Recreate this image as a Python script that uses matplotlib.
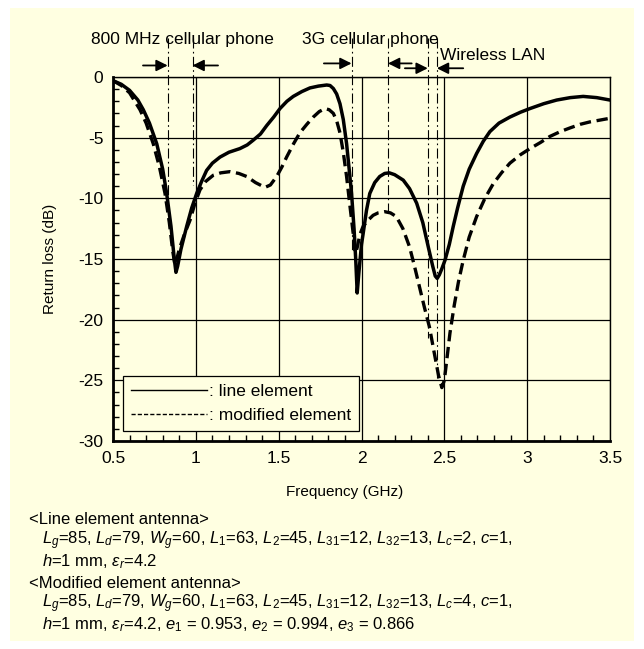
import matplotlib
matplotlib.use("Agg")
import matplotlib.pyplot as plt
from matplotlib.patches import Rectangle
from matplotlib.lines import Line2D
from matplotlib.ticker import MultipleLocator

plt.rcParams['font.family'] = ['Liberation Sans', 'DejaVu Sans']
plt.rcParams['mathtext.fontset'] = 'custom'
plt.rcParams['mathtext.rm'] = 'Liberation Sans'
plt.rcParams['mathtext.it'] = 'Liberation Sans:italic'
plt.rcParams['mathtext.bf'] = 'Liberation Sans:bold'

# ---------------- data ----------------
freq_line = [0.50, 0.55, 0.60, 0.65, 0.683, 0.72, 0.764, 0.80, 0.824, 0.85, 0.87, 0.88, 0.89, 0.91,
             0.945, 0.975, 1.005, 1.035, 1.065, 1.10, 1.146, 1.20, 1.266, 1.31, 1.347, 1.39, 1.428,
             1.47, 1.508, 1.55, 1.588, 1.64, 1.689, 1.74, 1.79, 1.81, 1.83, 1.85, 1.87, 1.89, 1.91,
             1.93, 1.94, 1.955, 1.965, 1.974, 1.985, 2.00, 2.01, 2.03, 2.05, 2.08, 2.11, 2.14, 2.168,
             2.20, 2.252, 2.29, 2.333, 2.37, 2.403, 2.43, 2.445, 2.457, 2.47, 2.485, 2.504, 2.53,
             2.554, 2.58, 2.614, 2.65, 2.695, 2.735, 2.775, 2.83, 2.896, 2.96, 3.017, 3.10, 3.178,
             3.26, 3.338, 3.42, 3.50]
rl_line = [-0.3, -0.6, -1.1, -1.9, -2.7, -3.8, -5.5, -7.6, -9.6, -12.3, -15.0, -16.1, -15.6, -14.2,
           -12.3, -10.8, -9.6, -8.6, -7.7, -7.1, -6.6, -6.2, -5.9, -5.6, -5.2, -4.7, -4.0,
           -3.3, -2.6, -2.0, -1.6, -1.2, -0.9, -0.75, -0.66, -0.7, -0.95, -1.4, -2.2, -3.5, -5.5,
           -8.2, -9.6, -12.5, -15.0, -17.8, -16.0, -13.8, -12.9, -11.0, -9.6, -8.7, -8.2, -7.95, -7.9,
           -8.05, -8.5, -9.2, -10.4, -12.0, -14.0, -15.6, -16.4, -16.6, -16.3, -15.8, -15.1, -13.8,
           -12.3, -10.8, -9.0, -7.6, -6.3, -5.3, -4.5, -3.8, -3.3, -2.9, -2.6, -2.2, -1.9,
           -1.7, -1.6, -1.7, -1.9]

freq_mod = [0.50, 0.55, 0.60, 0.663, 0.70, 0.743, 0.78, 0.814, 0.84, 0.86, 0.874, 0.885, 0.90, 0.93,
            0.965, 0.995, 1.025, 1.06, 1.105, 1.15, 1.206, 1.26, 1.307, 1.36, 1.417, 1.45, 1.488,
            1.52, 1.548, 1.59, 1.628, 1.67, 1.709, 1.745, 1.78, 1.805, 1.83, 1.85, 1.87, 1.89, 1.91,
            1.93, 1.95, 1.96, 1.965, 1.975, 1.99, 2.01, 2.04, 2.07, 2.10, 2.14, 2.175, 2.21, 2.25,
            2.29, 2.32, 2.35, 2.38, 2.41, 2.44, 2.465, 2.485, 2.50, 2.515, 2.534, 2.56, 2.585, 2.614,
            2.65, 2.695, 2.745, 2.795, 2.845, 2.896, 2.96, 3.017, 3.08, 3.137, 3.20, 3.258, 3.32,
            3.379, 3.44, 3.50]
rl_mod = [-0.3, -0.7, -1.3, -2.7, -3.8, -5.5, -7.4, -9.6, -12.0, -14.3, -15.5, -15.0, -14.2, -13.0,
          -11.8, -10.4, -9.3, -8.6, -8.1, -7.9, -7.8, -7.95, -8.2, -8.7, -9.1, -8.9, -8.2,
          -7.4, -6.6, -5.5, -4.6, -3.9, -3.3, -2.85, -2.6, -2.7, -3.0, -3.6, -4.6, -6.2, -8.2,
          -10.6, -12.9, -14.3, -14.5, -14.0, -13.0, -12.3, -11.8, -11.4, -11.2, -11.1, -11.2, -11.5, -12.5,
          -14.0, -15.6, -17.3, -19.0, -20.6, -22.8, -24.6, -25.6, -25.0, -23.3, -21.1, -18.8, -16.9, -15.1,
          -13.2, -11.5, -10.0, -8.8, -7.9, -7.1, -6.4, -5.9, -5.4, -4.9, -4.5, -4.2, -3.9,
          -3.7, -3.55, -3.4]

band_names = ['800 MHz cellular phone', '3G cellular phone', 'Wireless LAN']
band_edges = [(0.83, 0.98), (1.94, 2.16), (2.40, 2.455)]
band_line_bottom = [(-9.9, -8.9), (-14.5, -11.1), (-21.5, -25.0)]

x_ticks = [0.5, 1, 1.5, 2, 2.5, 3, 3.5]
x_ticklabels = ['0.5', '1', '1.5', '2', '2.5', '3', '3.5']
y_ticks = [0, -5, -10, -15, -20, -25, -30]
y_ticklabels = ['0', '-5', '-10', '-15', '-20', '-25', '-30']

legend_labels = [': line element', ': modified element']
x_label = 'Frequency (GHz)'
y_label = 'Return loss (dB)'

notes = [
    (29, '<Line element antenna>'),
    (42, r'$L_g$=85, $L_d$=79, $W_g$=60, $L_1$=63, $L_2$=45, $L_{31}$=12, $L_{32}$=13, $L_c$=2, $c$=1,'),
    (42, r'$h$=1 mm, $\varepsilon_r$=4.2'),
    (29, '<Modified element antenna>'),
    (42, r'$L_g$=85, $L_d$=79, $W_g$=60, $L_1$=63, $L_2$=45, $L_{31}$=12, $L_{32}$=13, $L_c$=4, $c$=1,'),
    (42, r'$h$=1 mm, $\varepsilon_r$=4.2, $e_1$ = 0.953, $e_2$ = 0.994, $e_3$ = 0.866'),
]

# ---------------- figure ----------------
W, H = 644, 649
BG = '#FFFFE1'
fig = plt.figure(figsize=(W / 100, H / 100), dpi=100)
fig.patch.set_facecolor('white')


def fx(px):
    return px / W


def fy(py):
    return 1 - py / H


fig.patches.append(Rectangle((fx(10), fy(641)), fx(624), 633 / H, transform=fig.transFigure,
                             facecolor=BG, edgecolor='none', zorder=-10))

ax = fig.add_axes([fx(113), fy(441), fx(610) - fx(113), fy(77) - fy(441)])
ax.set_facecolor(BG)
ax.set_xlim(0.5, 3.5)
ax.set_ylim(-30, 0)

ax.set_xticks(x_ticks)
ax.set_xticklabels(x_ticklabels)
ax.set_yticks(y_ticks)
ax.set_yticklabels(y_ticklabels)
ax.xaxis.set_minor_locator(MultipleLocator(0.1))
ax.yaxis.set_minor_locator(MultipleLocator(1))
ax.tick_params(which='both', direction='in', top=False, right=False, labelsize=12.5, colors='black')
ax.tick_params(which='major', length=0, pad=7)
ax.tick_params(which='minor', length=4, width=1)
ax.grid(True, which='major', color='black', lw=0.9)
ax.set_axisbelow(True)

for s in ['left', 'bottom']:
    ax.spines[s].set_linewidth(2.0)
for s in ['top', 'right']:
    ax.spines[s].set_linewidth(1.0)

ax.plot(freq_line, rl_line, color='black', lw=2.5, solid_joinstyle='round', zorder=5)
ax.plot(freq_mod, rl_mod, color='black', lw=2.4, linestyle=(0, (3.4, 1.7)), zorder=5)

# band lines
y_top = 3.2
dashdot = (0, (9, 3, 1.5, 3))
for (lo, hi), (blo, bhi) in zip(band_edges, band_line_bottom):
    ax.plot([lo, lo], [y_top, blo], color='black', lw=0.8, linestyle=dashdot, clip_on=False, zorder=4)
    ax.plot([hi, hi], [y_top, bhi], color='black', lw=0.8, linestyle=dashdot, clip_on=False, zorder=4)

# arrows: (tail, tip, y)
arrows = [(0.681, 0.83, 0.95), (1.134, 0.98, 0.95),
          (1.773, 1.94, 1.12), (2.303, 2.16, 1.12),
          (2.262, 2.40, 0.72), (2.614, 2.455, 0.72)]
for tail, tip, yy in arrows:
    ax.annotate('', xy=(tip, yy), xytext=(tail, yy), annotation_clip=False,
                arrowprops=dict(arrowstyle='-|>', color='black', lw=1.3, mutation_scale=17,
                                shrinkA=0, shrinkB=0))

fig.text(fx(91), fy(44), band_names[0], fontsize=12.5, va='baseline', ha='left')
fig.text(fx(302), fy(44), band_names[1], fontsize=12.5, va='baseline', ha='left')
fig.text(fx(440), fy(60), band_names[2], fontsize=12.5, va='baseline', ha='left')

# legend
handles = [Line2D([], [], color='black', lw=1.0),
           Line2D([], [], color='black', lw=1.0, linestyle=(0, (3, 1.5)))]
leg = ax.legend(handles, legend_labels, loc='lower left', bbox_to_anchor=(0.0195, 0.028),
                borderaxespad=0, fancybox=False, edgecolor='black', facecolor=BG, framealpha=1,
                fontsize=12.5, handlelength=4.4, handletextpad=0.1, labelspacing=0.5, borderpad=0.45)
leg.get_frame().set_linewidth(0.9)
leg.set_zorder(10)

fig.text(fx(345), fy(492), x_label, fontsize=11, ha='center', va='center')
fig.text(fx(50), fy(259), y_label, fontsize=11, ha='center', va='center', rotation=90)

y0 = 520
for i, (xp, t) in enumerate(notes):
    fig.text(fx(xp), fy(y0 + 21 * i), t, fontsize=12, ha='left', va='center')

fig.savefig('out.png', dpi=100, facecolor='white')
